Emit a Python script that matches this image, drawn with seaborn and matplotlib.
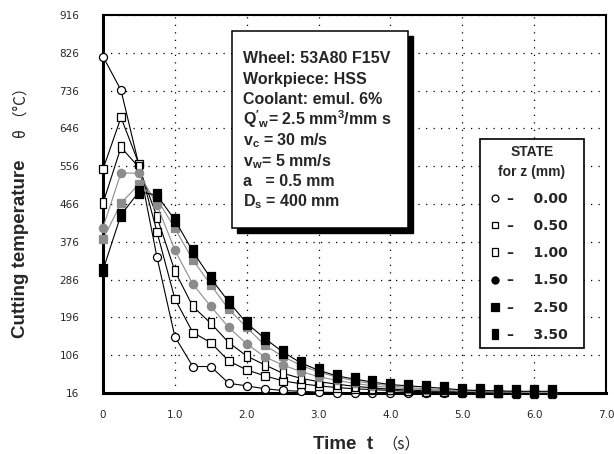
import matplotlib
matplotlib.use("Agg")
import matplotlib.pyplot as plt
from matplotlib.lines import Line2D
from matplotlib.patches import Rectangle
import seaborn as sns

# time points (s)
t = [0, 0.25, 0.5, 0.75, 1.0, 1.25, 1.5, 1.75, 2.0, 2.25, 2.5, 2.75, 3.0,
     3.25, 3.5, 3.75, 4.0, 4.25, 4.5, 4.75, 5.0, 5.25, 5.5, 5.75, 6.0, 6.25]

# cutting temperature for each depth z (mm)
z000 = [817, 737, 558, 340, 150, 79, 79, 39, 33, 26, 22, 20, 18, 17, 17, 16,
        16, 16, 16, 16, 16, 16, 16, 16, 16, 16]
z050 = [549, 672, 561, 400, 240, 160, 136, 92, 71, 57, 45, 38, 33, 29, 26, 24,
        22, 20, 19, 18, 18, 17, 17, 17, 16, 16]
z100 = [468, 601, 553, 436, 306, 222, 182, 136, 104, 83, 63, 51, 43, 37, 32, 28,
        25, 23, 21, 20, 19, 18, 18, 17, 17, 17]
z150 = [410, 540, 539, 464, 356, 275, 222, 172, 133, 102, 83, 67, 55, 46, 39, 33,
        29, 26, 24, 22, 20, 19, 18, 18, 17, 17]
z250 = [382, 468, 513, 478, 408, 333, 273, 215, 172, 130, 103, 82, 66, 54, 45, 38,
        33, 29, 26, 24, 22, 21, 20, 19, 19, 18]
z350 = [309, 440, 495, 487, 428, 353, 289, 233, 182, 146, 114, 88, 70, 57, 49, 42,
        36, 33, 30, 27, 23, 22, 21, 20, 20, 20]

z_labels = ["0.00", "0.50", "1.00", "1.50", "2.50", "3.50"]
y_ticks = [16, 106, 196, 286, 376, 466, 556, 646, 736, 826, 916]
x_ticks = [0, 1, 2, 3, 4, 5, 6, 7]
x_ticklabels = ["0", "1.0", "2.0", "3.0", "4.0", "5.0", "6.0", "7.0"]

info_lines = ["Wheel: 53A80 F15V",
              "Workpiece: HSS",
              "Coolant: emul. 6%",
              r"$\mathrm{Q}'_{w}$= 2.5 mm$^{3}$/mm s",
              r"v$_{c}$ = 30 m/s",
              r"v$_{w}$= 5 mm/s",
              "a   = 0.5 mm",
              r"D$_{s}$ = 400 mm"]

sns.set_style("white")
plt.rcParams["font.family"] = ["Liberation Sans", "DejaVu Sans"]
plt.rcParams["mathtext.fontset"] = "custom"
plt.rcParams["mathtext.rm"] = "Liberation Sans:bold"
plt.rcParams["mathtext.it"] = "Liberation Sans:bold"
plt.rcParams["mathtext.bf"] = "Liberation Sans:bold"

GRAY = "#8c8c8c"
rect_tall = [(-0.6, -1), (0.6, -1), (0.6, 1), (-0.6, 1), (-0.6, -1)]

# marker style per series
styles = [
    dict(color="black", marker="o", ms=5.8, mfc="white", mec="black"),
    dict(color="black", marker="s", ms=5.4, mfc="white", mec="black"),
    dict(color="black", marker=rect_tall, ms=7.5, mfc="white", mec="black"),
    dict(color=GRAY, marker="o", ms=6.0, mfc=GRAY, mec=GRAY),
    dict(color=GRAY, marker="s", ms=6.0, mfc=GRAY, mec=GRAY),
    dict(color="black", marker=rect_tall, ms=8.5, mfc="black", mec="black"),
]
series = [z000, z050, z100, z150, z250, z350]

fig = plt.figure(figsize=(6.14, 4.54), dpi=100)
ax = fig.add_axes([0.1678, 0.1344, 0.8192, 0.8326])

for vals, st in zip(series, styles):
    sns.lineplot(x=t, y=vals, ax=ax, color=st["color"], linewidth=0.8,
                 marker=st["marker"], markersize=st["ms"],
                 markerfacecolor=st["mfc"], markeredgecolor=st["mec"],
                 markeredgewidth=0.9, clip_on=False, zorder=3, legend=False)

ax.set_xlim(0, 7)
ax.set_ylim(16, 916)
ax.set_xticks(x_ticks)
ax.set_xticklabels(x_ticklabels)
ax.set_yticks(y_ticks)
ax.set_yticklabels([str(v) for v in y_ticks])
ax.set_xlabel("")
ax.set_ylabel("")

ax.grid(True, color="black", linestyle=(0, (1, 5)), linewidth=0.9)
ax.set_axisbelow(True)
for side in ["left", "bottom"]:
    ax.spines[side].set_linewidth(2.2)
for side in ["top", "right"]:
    ax.spines[side].set_linewidth(1.5)
for sp in ax.spines.values():
    sp.set_color("black")

ax.tick_params(axis="y", direction="out", length=5, width=1.2, pad=12,
               labelsize=7.5, labelfontfamily="DejaVu Sans")
ax.tick_params(axis="x", direction="inout", length=7, width=1.2, pad=9,
               labelsize=7.5, labelfontfamily="DejaVu Sans")

# parameter box with shadow
ax.add_patch(Rectangle((0.2665, 0.4233), 0.3499, 0.5212, transform=ax.transAxes,
                       facecolor="black", edgecolor="black", zorder=4))
ax.add_patch(Rectangle((0.2565, 0.4365), 0.3499, 0.5212, transform=ax.transAxes,
                       facecolor="white", edgecolor="black", linewidth=1.1, zorder=4.1))
for i, line in enumerate(info_lines):
    ax.text(0.2783, 0.872 - i * 0.0542, line, transform=ax.transAxes,
            fontsize=11.5, fontweight="bold", va="baseline", ha="left", zorder=5)

# legend
handles = []
for st in styles:
    fc = st["mfc"] if st["mfc"] == "white" else "black"
    handles.append(Line2D([], [], linestyle="none", marker=st["marker"],
                          markersize=st["ms"] * 0.85, markerfacecolor=fc,
                          markeredgecolor="black", markeredgewidth=0.9))
labels = ["\u2013    " + z + "  " for z in z_labels]
leg = ax.legend(handles, labels, title="STATE\nfor z (mm)", loc="upper left",
                bbox_to_anchor=(0.7495, 0.672), borderaxespad=0,
                prop={"family": "DejaVu Sans", "weight": "bold", "size": 10},
                title_fontproperties={"family": "Liberation Sans", "weight": "bold", "size": 10},
                handlelength=1.2, handletextpad=0.3, labelspacing=0.95,
                borderpad=0.45, fancybox=False, framealpha=1, edgecolor="black")
leg.get_frame().set_linewidth(1.2)
leg.get_title().set_multialignment("center")
leg.get_title().set_linespacing(1.5)
leg.set_zorder(6)

# axis titles
fig.text(0.034, 0.4515, "Cutting temperature", rotation=90, ha="center", va="center",
         fontsize=13.5, fontweight="bold")
fig.text(0.034, 0.76, "\u03b8 \uff08\u00b0C\uff09", rotation=90, ha="center", va="center",
         fontsize=11, family=["Noto Sans CJK SC", "DejaVu Sans"])
fig.text(0.51, 0.012, "Time  t", ha="left", va="baseline", fontsize=13.5, fontweight="bold")
fig.text(0.622, 0.012, "\uff08s\uff09", ha="left", va="baseline", fontsize=11,
         family=["Noto Sans CJK SC", "DejaVu Sans"])

fig.savefig("out.png", dpi=100)
